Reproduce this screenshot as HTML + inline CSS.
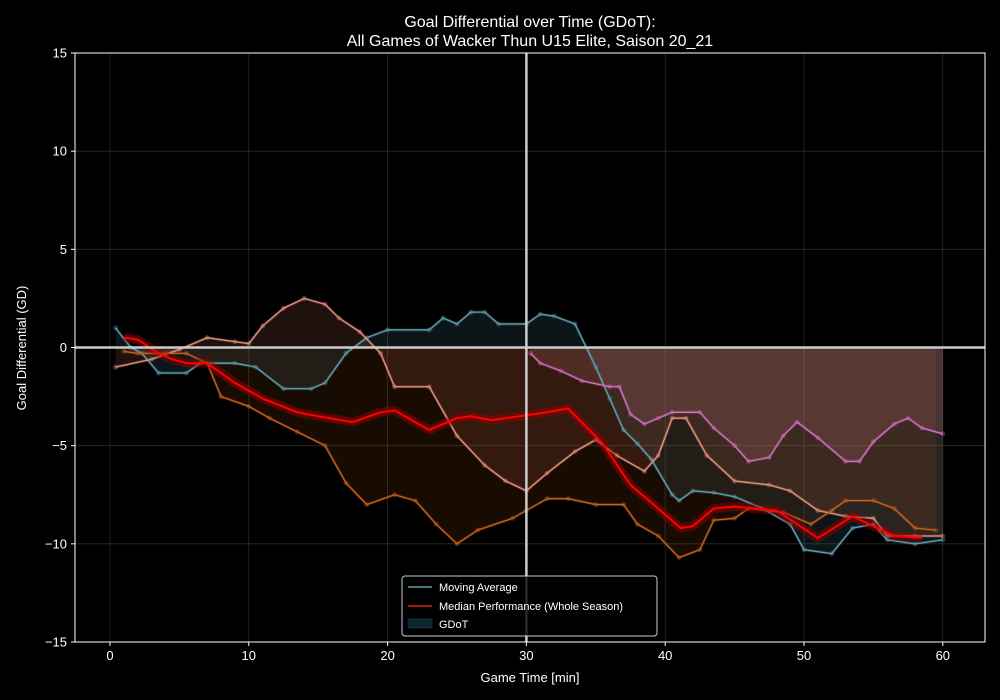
<!DOCTYPE html>
<html><head><meta charset="utf-8"><style>
html,body{margin:0;padding:0;background:#000;}
svg{display:block;font-family:"Liberation Sans","DejaVu Sans",sans-serif;}
</style></head><body>
<svg id="chart" width="1000" height="700" viewBox="0 0 1000 700">
<rect x="0" y="0" width="1000" height="700" fill="#000"/>
<g id="grid"></g>
<g id="fills"></g>
<g id="lines"></g>
<g id="refs"></g>
<rect x="75" y="53" width="910" height="589" fill="none" stroke="#fff" stroke-width="1"/>
<g id="ticks"></g>
<text x="530" y="27" text-anchor="middle" fill="#fff" font-size="16">Goal Differential over Time (GDoT):</text>
<text x="530" y="46" text-anchor="middle" fill="#fff" font-size="16">All Games of Wacker Thun U15 Elite, Saison 20_21</text>
<text x="530" y="682" text-anchor="middle" fill="#fff" font-size="13">Game Time [min]</text>
<text transform="translate(26,348) rotate(-90)" text-anchor="middle" fill="#fff" font-size="13">Goal Differential (GD)</text>
<g>
<rect x="402" y="576" width="255" height="60" rx="3" fill="#000" fill-opacity="0.8" stroke="#ccc" stroke-width="1"/>
<line x1="408" y1="587" x2="432" y2="587" stroke="#5f9fb0" stroke-width="1.5"/>
<text x="439" y="591" fill="#fff" font-size="11">Moving Average</text>
<line x1="408" y1="606" x2="432" y2="606" stroke="#e02010" stroke-width="1.5"/>
<text x="439" y="610" fill="#fff" font-size="11">Median Performance (Whole Season)</text>
<rect x="408" y="619" width="24" height="9" fill="#0f2530" stroke="#2a4550" stroke-width="0.5"/>
<text x="439" y="628" fill="#fff" font-size="11">GDoT</text>
</g>
</svg>
<script>
const xTicks=[0,10,20,30,40,50,60];
const yTicks=[-15,-10,-5,0,5,10,15];
const blueT=[0.4,1.5,2.3,3.5,5.5,6.5,9,10.5,12.5,14.5,15.5,17,18.5,20,23,24,25,26,27,28,30,31,32,33.5,35,36,37,38,39,40.5,41,42,43.5,45,47,49,50,52,53.5,55,56,58,60];
const blueV=[1,0,-0.3,-1.3,-1.3,-0.8,-0.8,-1,-2.1,-2.1,-1.8,-0.3,0.5,0.9,0.9,1.5,1.2,1.8,1.8,1.2,1.2,1.7,1.6,1.2,-1,-2.6,-4.2,-4.9,-5.7,-7.5,-7.8,-7.3,-7.4,-7.6,-8.2,-9,-10.3,-10.5,-9.2,-9,-9.8,-10,-9.8];
const salmonT=[0.4,3,5,7,9,10,11,12.5,14,15.5,16.5,18,19.5,20.5,23,25,27,28.5,30,31.5,33.5,35,36.5,38.5,39.5,40.5,41.5,43,45,47.5,49,51,53,55,56,58,60];
const salmonV=[-1,-0.6,-0.1,0.5,0.3,0.2,1.1,2,2.5,2.2,1.5,0.8,-0.3,-2,-2,-4.5,-6,-6.8,-7.3,-6.4,-5.3,-4.7,-5.5,-6.3,-5.5,-3.6,-3.6,-5.5,-6.8,-7,-7.3,-8.3,-8.6,-8.7,-9.6,-9.6,-9.6];
const orangeT=[1,2,4,5.5,7,8,10,11.5,13.5,15.5,17,18.5,20.5,22,23.5,25,26.5,29,30,31.5,33,35,37,38,39.5,41,42.5,43.5,45,46,48.5,50.5,52,53,55,56.5,58,59.5];
const orangeV=[-0.2,-0.3,-0.3,-0.3,-0.8,-2.5,-3,-3.6,-4.3,-5,-6.9,-8,-7.5,-7.8,-9,-10,-9.3,-8.7,-8.3,-7.7,-7.7,-8,-8,-9,-9.6,-10.7,-10.3,-8.8,-8.7,-8.2,-8.4,-9,-8.3,-7.8,-7.8,-8.2,-9.2,-9.3];
const pinkT=[30.3,31,32.5,34,36,36.7,37.5,38.5,39.5,40.5,42.5,43.5,45,46,47.5,48.5,49.5,51,53,54,55,56.5,57.5,58.5,60];
const pinkV=[-0.3,-0.8,-1.2,-1.7,-2,-2,-3.4,-3.9,-3.6,-3.3,-3.3,-4.1,-5,-5.8,-5.6,-4.5,-3.8,-4.6,-5.8,-5.8,-4.8,-3.9,-3.6,-4.1,-4.4];
const medianT=[1,2,3.5,4.5,5.5,7,9,11,13.5,15,17.5,19.5,20.5,23,25,26,27.5,29.5,31.5,33,35.5,37.5,39.5,41.1,42,43.5,45,48,51,53.5,56.5,58.5];
const medianV=[0.5,0.4,-0.3,-0.6,-0.8,-0.8,-1.8,-2.6,-3.3,-3.5,-3.8,-3.3,-3.2,-4.2,-3.6,-3.5,-3.7,-3.5,-3.3,-3.1,-4.9,-7,-8.2,-9.2,-9.1,-8.2,-8.1,-8.3,-9.7,-8.6,-9.6,-9.7];

const X0=75,X1=985,Y0=53,Y1=642,xmin=-2.52,xmax=63.04,ymin=-15,ymax=15;
function sx(t){return X0+(t-xmin)/(xmax-xmin)*(X1-X0);}
function sy(v){return Y1-(v-ymin)/(ymax-ymin)*(Y1-Y0);}
const NS="http://www.w3.org/2000/svg";
function mk(tag,parent,attrs){const e=document.createElementNS(NS,tag);for(const k in attrs)e.setAttribute(k,attrs[k]);parent.appendChild(e);return e;}
const grid=document.getElementById('grid'),ticks=document.getElementById('ticks');
xTicks.forEach(t=>{
  const g=mk('line',grid,{x1:sx(t),x2:sx(t),y1:Y0,y2:Y1,stroke:'#2a2a2a','stroke-width':0.8});
  
  
  const tk=mk('line',ticks,{x1:sx(t),x2:sx(t),y1:Y1,y2:Y1+4,stroke:'#fff'});
  
  
  const l=mk('text',ticks,{x:sx(t),y:Y1+18,'text-anchor':'middle',fill:'#fff','font-size':13});
  l.textContent=t;
  
  
});
yTicks.forEach(v=>{
  const g=mk('line',grid,{x1:X0,x2:X1,y1:sy(v),y2:sy(v),stroke:'#2a2a2a','stroke-width':0.8});
  
  
  const tk=mk('line',ticks,{x1:X0-4,x2:X0,y1:sy(v),y2:sy(v),stroke:'#fff'});
  
  
  const l=mk('text',ticks,{x:X0-8,y:sy(v)+4.5,'text-anchor':'end',fill:'#fff','font-size':13});
  l.textContent=(v<0?'\u2212'+(-v):v);
  
  
});
const fills=document.getElementById('fills'),lines=document.getElementById('lines');
const series=[
 {n:'blue-game',T:blueT,V:blueV,c:'#5f9fb0',f:'rgba(95,160,180,0.13)'},
 {n:'salmon-game',T:salmonT,V:salmonV,c:'#e8907a',f:'rgba(220,120,100,0.14)'},
 {n:'orange-game',T:orangeT,V:orangeV,c:'#c8601a',f:'rgba(200,90,20,0.12)'},
 {n:'pink-game',T:pinkT,V:pinkV,c:'#d070c0',f:'rgba(200,120,130,0.2)'}
];
series.forEach(s=>{
  let d='M'+sx(s.T[0])+','+sy(0);
  s.T.forEach((t,i)=>{d+=' L'+sx(t)+','+sy(s.V[i]);});
  d+=' L'+sx(s.T[s.T.length-1])+','+sy(0)+' Z';
  const f=mk('path',fills,{d:d,fill:s.f});
  
  
  const pts=s.T.map((t,i)=>sx(t)+','+sy(s.V[i])).join(' ');
  const raw=mk('polyline',lines,{points:pts,fill:'none',stroke:s.c,'stroke-width':3,'stroke-opacity':0.25});
  
  
  const l=mk('polyline',lines,{points:pts,fill:'none',stroke:s.c,'stroke-width':1.3});
  
  
  s.T.forEach((t,i)=>{
    const c=mk('circle',lines,{cx:sx(t),cy:sy(s.V[i]),r:2.5,fill:s.c,'fill-opacity':0.35});
    
    
  });
});
const mpts=medianT.map((t,i)=>sx(t)+','+sy(medianV[i])).join(' ');
const glow=mk('polyline',lines,{points:mpts,fill:'none',stroke:'#a00000','stroke-width':9,'stroke-opacity':0.45,'stroke-linejoin':'round'});


const med=mk('polyline',lines,{points:mpts,fill:'none',stroke:'#ff0000','stroke-width':2,'stroke-linejoin':'round'});


const refs=document.getElementById('refs');
const h=mk('line',refs,{x1:X0,x2:X1,y1:sy(0),y2:sy(0),stroke:'#cccccc','stroke-width':2.5});


const v=mk('line',refs,{x1:sx(30),x2:sx(30),y1:Y0,y2:Y1,stroke:'#cccccc','stroke-width':2.5});


</script>
</body></html>
